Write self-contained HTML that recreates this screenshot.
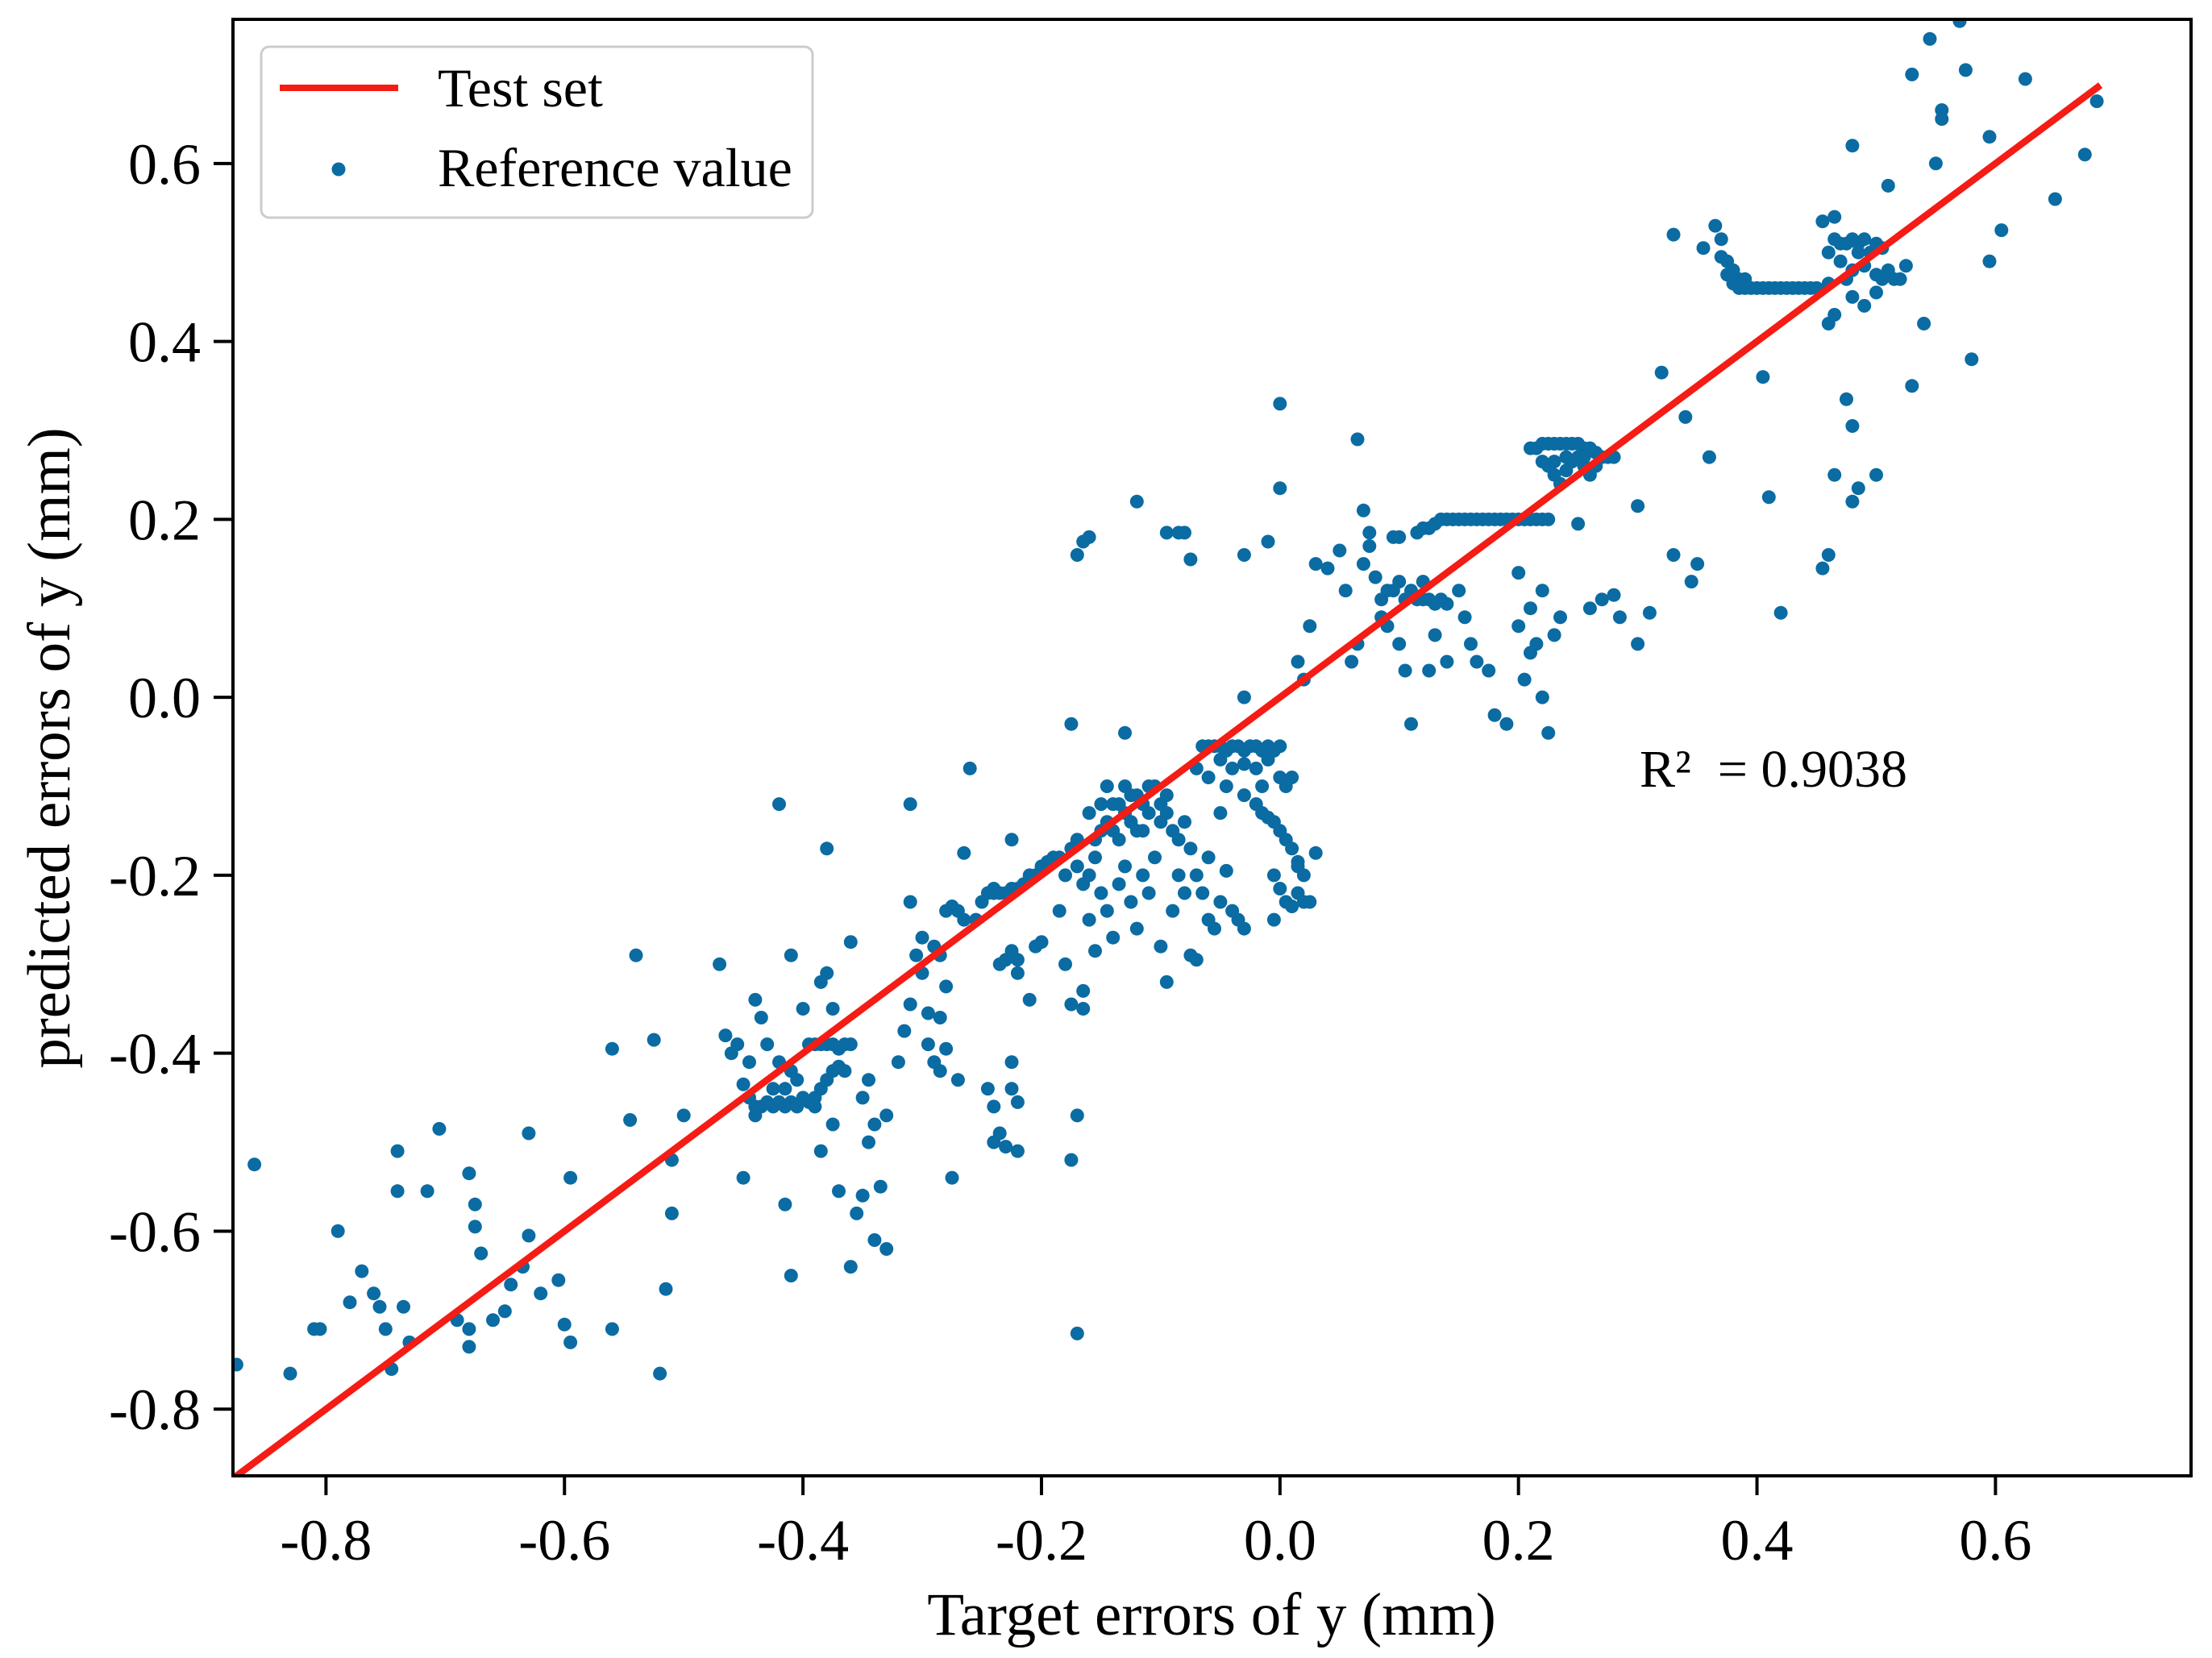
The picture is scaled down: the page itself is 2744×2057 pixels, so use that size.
<!DOCTYPE html>
<html><head><meta charset="utf-8">
<style>
html,body{margin:0;padding:0;background:#fff;}
svg{display:block;font-family:"Liberation Serif","DejaVu Serif",serif;}
</style></head>
<body>
<svg id="chart" width="2744" height="2057" viewBox="0 0 2744 2057" xmlns="http://www.w3.org/2000/svg">
<rect width="2744" height="2057" fill="#fff"/>
<defs><clipPath id="plotclip"><rect x="289" y="24" width="2429" height="1807"/></clipPath></defs>
<g id="marks" clip-path="url(#plotclip)"></g>
<g id="axes"></g>
<rect x="289" y="24" width="2429" height="1807" fill="none" stroke="#000" stroke-width="4"/>
<text x="1503" y="2028" font-size="75" text-anchor="middle">Target errors of y (mm)</text>
<text x="86" y="928" font-size="75" text-anchor="middle" transform="rotate(-90 86 928)">predicted errors of y (mm)</text>
<text x="2034" y="976" font-size="66">R² &#160;= 0.9038</text>
<g>
<rect x="324" y="58" width="684" height="212" rx="10" fill="#fff" fill-opacity="0.85" stroke="#ccc" stroke-width="3"/>
<line x1="347" y1="109" x2="494" y2="109" stroke="#f41c14" stroke-width="8"/>
<text x="543" y="132" font-size="68">Test set</text>
<circle cx="420" cy="210" r="8.5" fill="#0b6ba3"/>
<text x="543" y="231" font-size="68">Reference value</text>
</g>
</svg>
<script>
const xTicks = [-0.8,-0.6,-0.4,-0.2,0.0,0.2,0.4,0.6];
const yTicks = [-0.8,-0.6,-0.4,-0.2,0.0,0.2,0.4,0.6];
const fitLine = [[-0.878,-0.878],[0.688,0.688]];
const pts = [
[-0.875,-0.75],[-0.86,-0.525],[-0.83,-0.76],[-0.81,-0.71],[-0.805,-0.71],[-0.79,-0.6],[-0.78,-0.68],[-0.77,-0.645],[-0.76,-0.67],[-0.755,-0.685],[-0.75,-0.71],[-0.745,-0.755],[-0.74,-0.51],[-0.74,-0.555],[-0.735,-0.685],[-0.73,-0.725],[-0.715,-0.555],[-0.705,-0.485],[-0.69,-0.7],[-0.68,-0.71],[-0.68,-0.535],[-0.675,-0.57],[-0.675,-0.595],[-0.67,-0.625],[-0.68,-0.73],[-0.66,-0.7],[-0.65,-0.69],[-0.645,-0.66],[-0.635,-0.64],[-0.63,-0.605],[-0.63,-0.49],[-0.62,-0.67],[-0.605,-0.655],[-0.6,-0.705],[-0.595,-0.54],[-0.595,-0.725],[-0.56,-0.71],[-0.56,-0.395],[-0.545,-0.475],[-0.54,-0.29],[-0.525,-0.385],[-0.52,-0.76],[-0.515,-0.665],[-0.51,-0.58],[-0.51,-0.52],[-0.5,-0.47],
[-0.47,-0.3],[-0.465,-0.38],[-0.46,-0.4],[-0.455,-0.39],[-0.45,-0.435],[-0.445,-0.45],[-0.44,-0.46],[-0.435,-0.46],[-0.43,-0.455],[-0.425,-0.46],[-0.42,-0.455],[-0.415,-0.46],[-0.41,-0.455],[-0.405,-0.46],[-0.40,-0.45],[-0.395,-0.455],[-0.39,-0.45],[-0.385,-0.44],[-0.38,-0.43],[-0.375,-0.42],[-0.37,-0.415],[-0.365,-0.42],[-0.445,-0.41],[-0.44,-0.34],[-0.435,-0.36],[-0.43,-0.39],[-0.425,-0.44],[-0.42,-0.41],[-0.415,-0.44],[-0.41,-0.42],[-0.405,-0.43],[-0.40,-0.35],[-0.395,-0.39],[-0.39,-0.39],[-0.385,-0.39],[-0.38,-0.39],[-0.375,-0.39],[-0.37,-0.395],[-0.365,-0.39],[-0.36,-0.39],[-0.375,-0.35],[-0.38,-0.31],[-0.385,-0.32],[-0.41,-0.29],[-0.42,-0.12],[-0.38,-0.17],[-0.45,-0.54],[-0.44,-0.47],[-0.415,-0.57],[-0.41,-0.65],[-0.39,-0.46],[-0.385,-0.51],[-0.375,-0.48],[-0.37,-0.555],[-0.36,-0.64],[-0.355,-0.58],[-0.35,-0.56],[-0.345,-0.5],[-0.34,-0.48],[-0.34,-0.61],[-0.335,-0.55],[-0.33,-0.62],[-0.33,-0.47],[-0.36,-0.275],[-0.35,-0.45],[-0.345,-0.43],
[-0.32,-0.41],[-0.315,-0.375],[-0.31,-0.345],[-0.31,-0.23],[-0.305,-0.29],[-0.3,-0.31],[-0.3,-0.27],[-0.295,-0.355],[-0.295,-0.39],[-0.29,-0.41],[-0.285,-0.36],[-0.28,-0.325],[-0.285,-0.29],[-0.29,-0.28],[-0.28,-0.24],[-0.275,-0.235],[-0.27,-0.24],[-0.265,-0.25],[-0.265,-0.175],[-0.26,-0.08],[-0.275,-0.54],[-0.27,-0.43],[-0.28,-0.395],[-0.285,-0.42],[-0.31,-0.12],[-0.255,-0.25],[-0.25,-0.23],[-0.245,-0.22],[-0.24,-0.22],[-0.235,-0.22],[-0.23,-0.22],[-0.225,-0.215],[-0.22,-0.215],[-0.215,-0.21],[-0.21,-0.2],[-0.205,-0.2],[-0.2,-0.19],[-0.195,-0.185],[-0.19,-0.18],[-0.225,-0.16],[-0.24,-0.215],[-0.23,-0.295],[-0.225,-0.285],[-0.22,-0.295],[-0.235,-0.3],[-0.2,-0.275],[-0.205,-0.28],[-0.21,-0.34],[-0.22,-0.31],[-0.245,-0.44],[-0.24,-0.46],[-0.235,-0.49],[-0.225,-0.41],[-0.225,-0.44],[-0.22,-0.455],[-0.22,-0.51],[-0.23,-0.505],[-0.24,-0.5],[-0.175,-0.52],[-0.17,-0.47],[-0.17,-0.715],[-0.165,-0.35],
[-0.185,-0.18],[-0.18,-0.2],[-0.175,-0.17],[-0.17,-0.19],[-0.165,-0.21],[-0.16,-0.2],[-0.155,-0.18],[-0.15,-0.15],[-0.15,-0.12],[-0.145,-0.1],[-0.14,-0.12],[-0.14,-0.15],[-0.135,-0.16],[-0.13,-0.1],[-0.13,-0.13],[-0.125,-0.14],[-0.12,-0.11],[-0.12,-0.15],[-0.115,-0.12],[-0.11,-0.13],[-0.105,-0.1],[-0.1,-0.12],[-0.1,-0.14],[-0.095,-0.13],[-0.09,-0.15],[-0.085,-0.16],[-0.08,-0.14],[-0.075,-0.17],[-0.16,-0.13],[-0.155,-0.16],[-0.145,-0.14],[-0.135,-0.12],[-0.125,-0.11],[-0.115,-0.15],[-0.11,-0.1],[-0.095,-0.11],[-0.17,-0.16],[-0.175,-0.03],[-0.13,-0.04],[-0.185,-0.24],[-0.18,-0.3],[-0.175,-0.345],[-0.165,-0.33],[-0.16,-0.25],[-0.155,-0.285],[-0.15,-0.22],[-0.145,-0.24],[-0.14,-0.27],[-0.135,-0.21],[-0.13,-0.19],[-0.125,-0.23],[-0.12,-0.26],[-0.115,-0.2],[-0.11,-0.22],[-0.105,-0.18],[-0.1,-0.28],[-0.095,-0.32],[-0.09,-0.24],[-0.085,-0.2],[-0.08,-0.22],[-0.075,-0.29],[-0.07,-0.295],[-0.07,-0.2],[-0.065,-0.22],[-0.06,-0.18],[-0.06,-0.25],[-0.055,-0.26],[-0.05,-0.23],[-0.045,-0.195],[-0.04,-0.24],[-0.035,-0.25],[-0.03,-0.26],
[-0.07,-0.08],[-0.065,-0.055],[-0.06,-0.055],[-0.055,-0.055],[-0.05,-0.055],[-0.045,-0.06],[-0.04,-0.055],[-0.035,-0.055],[-0.03,-0.06],[-0.025,-0.055],[-0.02,-0.055],[-0.015,-0.06],[-0.01,-0.055],[-0.005,-0.06],[0,-0.055],[-0.05,-0.07],[-0.04,-0.08],[-0.03,-0.075],[-0.02,-0.08],[-0.01,-0.07],[-0.06,-0.09],[-0.045,-0.1],[-0.03,-0.11],[-0.02,-0.12],[-0.015,-0.13],[-0.01,-0.135],[-0.005,-0.14],[0,-0.15],[0.005,-0.16],[0.01,-0.17],[-0.005,-0.2],[0.0,-0.215],[0.005,-0.23],[0.01,-0.235],[0.015,-0.22],[0.02,-0.23],[0.03,-0.175],[0.015,-0.185],[0.0,-0.09],[0.005,-0.1],[0.01,-0.09],[0.015,-0.19],[0.02,-0.2],[0.025,-0.23],[-0.03,0.0],[-0.05,-0.13],[-0.015,-0.1],[-0.005,-0.25],
[-0.17,0.16],[-0.165,0.175],[-0.16,0.18],[-0.12,0.22],[-0.095,0.185],[-0.085,0.185],[-0.08,0.185],[-0.075,0.155],[-0.03,0.16],[-0.01,0.175],[0.0,0.235],[0.0,0.33],[0.015,0.04],[0.02,0.02],[0.025,0.08],[0.03,0.15],[0.04,0.145],[0.05,0.165],[0.055,0.12],[0.06,0.04],[0.065,0.29],[0.065,0.06],[0.07,0.15],[0.07,0.21],[0.075,0.17],[0.075,0.185],[0.08,0.135],[0.085,0.11],[0.09,0.12],[0.095,0.18],[0.1,0.18],[0.1,0.13],[0.105,0.11],[0.11,0.12],[0.115,0.185],[0.12,0.19],[0.125,0.19],[0.13,0.195],[0.135,0.2],[0.14,0.2],[0.145,0.2],[0.15,0.2],[0.155,0.2],[0.16,0.2],[0.165,0.2],[0.17,0.2],[0.175,0.2],[0.18,0.2],[0.185,0.2],[0.19,0.2],[0.195,0.2],[0.2,0.2],[0.205,0.2],[0.21,0.2],[0.215,0.2],[0.22,0.2],[0.225,0.2],[0.115,0.11],[0.12,0.11],[0.125,0.11],[0.13,0.105],[0.135,0.11],[0.14,0.105],[0.09,0.08],[0.1,0.06],[0.105,0.03],[0.11,-0.03],[0.125,0.03],[0.13,0.07],[0.14,0.04],[0.15,0.12],[0.155,0.09],[0.16,0.06],[0.165,0.04],[0.175,0.03],[0.18,-0.02],[0.19,-0.03],[0.2,0.14],[0.2,0.08],[0.205,0.02],[0.21,0.05],[0.21,0.1],[0.215,0.06],[0.22,0.12],[0.22,0.0],[0.225,-0.04],[0.23,0.07],[0.235,0.09],[0.12,0.13],[0.095,0.12],[0.085,0.09],
[0.21,0.28],[0.215,0.28],[0.22,0.285],[0.225,0.285],[0.23,0.285],[0.235,0.285],[0.24,0.285],[0.245,0.285],[0.25,0.285],[0.255,0.28],[0.26,0.28],[0.265,0.275],[0.27,0.27],[0.275,0.27],[0.28,0.27],[0.22,0.265],[0.225,0.26],[0.23,0.25],[0.235,0.24],[0.24,0.255],[0.245,0.265],[0.25,0.27],[0.255,0.26],[0.26,0.25],[0.23,0.265],[0.24,0.27],[0.255,0.27],[0.265,0.26],[0.25,0.195],[0.26,0.1],[0.27,0.11],[0.28,0.115],[0.285,0.09],[0.3,0.215],[0.3,0.06],[0.31,0.095],[0.32,0.365],[0.33,0.16],[0.34,0.315],[0.345,0.13],[0.35,0.15],[0.36,0.27],[0.33,0.52],
[0.355,0.505],[0.365,0.53],[0.37,0.495],[0.37,0.515],[0.375,0.49],[0.375,0.475],[0.38,0.48],[0.385,0.47],[0.39,0.47],[0.38,0.465],[0.385,0.46],[0.39,0.46],[0.395,0.46],[0.4,0.46],[0.405,0.46],[0.41,0.46],[0.415,0.46],[0.42,0.46],[0.425,0.46],[0.43,0.46],[0.435,0.46],[0.44,0.46],[0.445,0.46],[0.45,0.46],[0.46,0.465],[0.455,0.535],[0.465,0.54],[0.46,0.5],[0.465,0.515],[0.47,0.51],[0.475,0.51],[0.48,0.515],[0.485,0.51],[0.49,0.515],[0.495,0.5],[0.5,0.51],[0.505,0.505],[0.47,0.49],[0.475,0.47],[0.48,0.48],[0.485,0.5],[0.49,0.485],[0.5,0.475],[0.505,0.47],[0.51,0.48],[0.515,0.47],[0.52,0.47],[0.525,0.485],[0.48,0.45],[0.49,0.44],[0.5,0.455],[0.46,0.42],[0.465,0.43],[0.475,0.335],[0.48,0.305],[0.48,0.22],[0.485,0.235],[0.465,0.25],[0.46,0.16],[0.455,0.145],[0.42,0.095],[0.405,0.36],[0.41,0.225],[0.48,0.62],[0.5,0.25],[0.51,0.575],[0.53,0.35],[0.54,0.42],[0.53,0.7],[0.545,0.74],[0.55,0.6],[0.555,0.66],[0.555,0.65],[0.56,0.77],[0.57,0.76],[0.575,0.705],[0.58,0.38],[0.595,0.49],[0.595,0.63],[0.605,0.525],[0.615,0.77],[0.625,0.695],[0.65,0.56],[0.675,0.61],[0.685,0.67]
];
const NS='http://www.w3.org/2000/svg';
const X0=289,X1=2718,Y0=24,Y1=1831;
const xMin=-0.878,xMax=0.764,yMin=-0.875,yMax=0.762;
function sx(v){return X0+(v-xMin)/(xMax-xMin)*(X1-X0);}
function sy(v){return Y1-(v-yMin)/(yMax-yMin)*(Y1-Y0);}
const marks=document.getElementById('marks');
const axes=document.getElementById('axes');
for(const p of pts){
  const c=document.createElementNS(NS,'circle');
  
  
  c.setAttribute('cx',sx(p[0]).toFixed(1));
  c.setAttribute('cy',sy(p[1]).toFixed(1));
  c.setAttribute('r','8.5');
  c.setAttribute('fill','#0b6ba3');
  marks.appendChild(c);
}
const ln=document.createElementNS(NS,'line');


ln.setAttribute('x1',sx(fitLine[0][0]));ln.setAttribute('y1',sy(fitLine[0][1]));
ln.setAttribute('x2',sx(fitLine[1][0]));ln.setAttribute('y2',sy(fitLine[1][1]));
ln.setAttribute('stroke','#f41c14');ln.setAttribute('stroke-width','8.5');
marks.appendChild(ln);
for(const t of xTicks){
  const x=sx(t);
  const tk=document.createElementNS(NS,'line');
  
  
  tk.setAttribute('x1',x);tk.setAttribute('x2',x);tk.setAttribute('y1',Y1);tk.setAttribute('y2',Y1+24);
  tk.setAttribute('stroke','#000');tk.setAttribute('stroke-width','4');
  axes.appendChild(tk);
  const tx=document.createElementNS(NS,'text');
  
  
  tx.setAttribute('x',x);tx.setAttribute('y',Y1+104);
  tx.setAttribute('font-size','72');tx.setAttribute('text-anchor','middle');
  tx.textContent=t.toFixed(1);
  axes.appendChild(tx);
}
for(const t of yTicks){
  const y=sy(t);
  const tk=document.createElementNS(NS,'line');
  
  
  tk.setAttribute('x1',X0-24);tk.setAttribute('x2',X0);tk.setAttribute('y1',y);tk.setAttribute('y2',y);
  tk.setAttribute('stroke','#000');tk.setAttribute('stroke-width','4');
  axes.appendChild(tk);
  const tx=document.createElementNS(NS,'text');
  
  
  tx.setAttribute('x',X0-40);tx.setAttribute('y',y+25);
  tx.setAttribute('font-size','72');tx.setAttribute('text-anchor','end');
  tx.textContent=t.toFixed(1);
  axes.appendChild(tx);
}
</script>
</body></html>
